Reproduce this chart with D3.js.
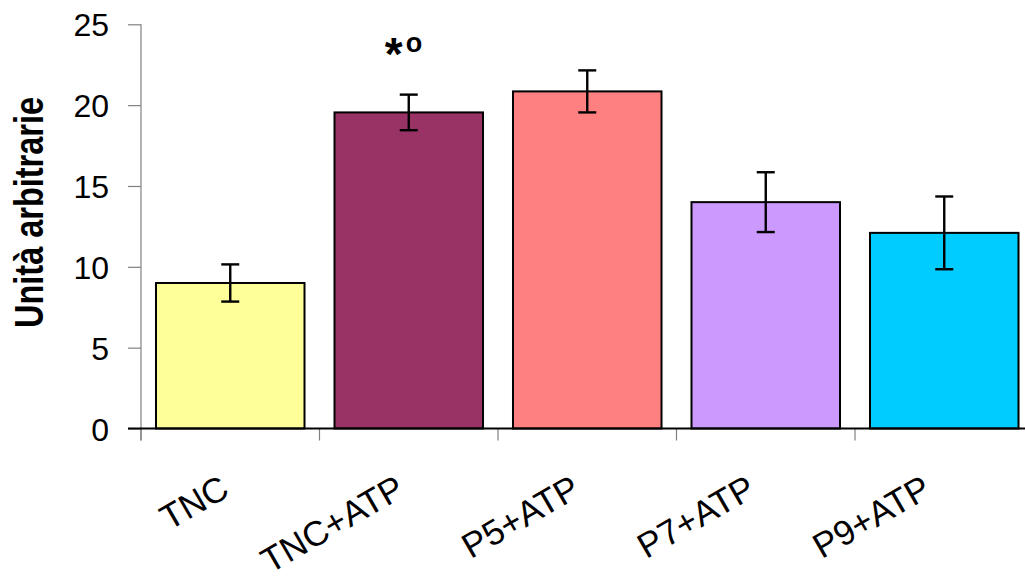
<!DOCTYPE html>
<html>
<head>
<meta charset="utf-8">
<script src="https://cdn.jsdelivr.net/npm/d3@7"></script>
<style>
  html, body { margin: 0; padding: 0; background: #fff; }
  svg { display: block; }
  text { font-family: "Liberation Sans", Arial, sans-serif; fill: #000; }
</style>
</head>
<body>
<svg id="chart" width="1025" height="579"></svg>
<script>
// Data
const categories = ["TNC", "TNC+ATP", "P5+ATP", "P7+ATP", "P9+ATP"];
const means = [9.0, 19.55, 20.85, 14.0, 12.1];
const errors = [1.15, 1.1, 1.3, 1.85, 2.25];
const barColors = ["#FFFF99", "#993366", "#FF8080", "#CC99FF", "#00CCFF"];
const yTicks = [0, 5, 10, 15, 20, 25];
const annotations = [{ category: "TNC+ATP", star: "*", ring: "o" }];

const svg = d3.select("#chart");

const x0 = 141, step = 178.5;
const x = d3.scaleBand()
  .domain(categories)
  .range([x0, x0 + step * categories.length])
  .paddingInner(0)
  .paddingOuter(0);

const y = d3.scaleLinear().domain([0, 25]).range([428.5, 24.3]);

const barW = x.bandwidth() * 0.832;
const cx = c => x(c) + x.bandwidth() / 2;

// Anchor points for the rotated category labels (slightly tighter spacing than the bars)
const xLabel = d3.scalePoint()
  .domain(categories)
  .range([cx(categories[0]) + 1, cx(categories[categories.length - 1]) - 11]);

// Y axis
const yAxis = svg.append("g").attr("transform", `translate(${x0},0)`)
  .call(d3.axisLeft(y).tickValues(yTicks).tickSize(13).tickPadding(19).tickSizeOuter(0));
yAxis.select(".domain").remove();
yAxis.selectAll(".tick line").attr("stroke", "#808080").attr("stroke-width", 1.2);
yAxis.selectAll(".tick text")
  .style("font-size", "32px")
  .attr("dy", "0.36em");
svg.append("line")
  .attr("x1", x0).attr("x2", x0)
  .attr("y1", y(25)).attr("y2", y(0) + 12)
  .attr("stroke", "#808080").attr("stroke-width", 1.2);

// Category ticks on the x axis
svg.append("g").selectAll("line.xt")
  .data(categories)
  .join("line")
  .attr("x1", d => x(d)).attr("x2", d => x(d))
  .attr("y1", y(0)).attr("y2", y(0) + 12)
  .attr("stroke", "#808080").attr("stroke-width", 1.2);

// Bars
svg.append("g").selectAll("rect")
  .data(categories)
  .join("rect")
  .attr("x", d => cx(d) - barW / 2)
  .attr("width", barW)
  .attr("y", (d, i) => y(means[i]))
  .attr("height", (d, i) => y(0) - y(means[i]))
  .attr("fill", (d, i) => barColors[i])
  .attr("stroke", "#000")
  .attr("stroke-width", 2);

// X axis line
svg.append("line")
  .attr("x1", x0 - 13).attr("x2", 1025)
  .attr("y1", y(0)).attr("y2", y(0))
  .attr("stroke", "#000").attr("stroke-width", 2);

// Error bars
const eb = svg.append("g").attr("stroke", "#000").attr("stroke-width", 2.4);
categories.forEach((c, i) => {
  const xc = cx(c);
  const hi = y(means[i] + errors[i]), lo = y(means[i] - errors[i]);
  eb.append("line").attr("x1", xc).attr("x2", xc).attr("y1", hi).attr("y2", lo);
  eb.append("line").attr("x1", xc - 9).attr("x2", xc + 9).attr("y1", hi).attr("y2", hi);
  eb.append("line").attr("x1", xc - 9).attr("x2", xc + 9).attr("y1", lo).attr("y2", lo);
});

// Category labels, rotated, ending near the category centre
svg.append("g").selectAll("text")
  .data(categories)
  .join("text")
  .attr("text-anchor", "end")
  .attr("transform", d => `translate(${xLabel(d)},${495}) rotate(-30)`)
  .style("font-size", "35px")
  .text(d => d);

// Significance marks
const sig = svg.append("g").selectAll("text")
  .data(annotations)
  .join("text")
  .attr("x", d => cx(d.category) - 24)
  .attr("y", 69.5)
  .style("font-weight", "bold");
sig.append("tspan").style("font-size", "46px").text(d => d.star);
sig.append("tspan").attr("dx", 3).attr("dy", -17.5).style("font-size", "27px").text(d => d.ring);

// Y axis title
svg.append("text")
  .attr("transform", `translate(43,212.5) rotate(-90)`)
  .attr("text-anchor", "middle")
  .attr("textLength", 231)
  .attr("lengthAdjust", "spacingAndGlyphs")
  .style("font-size", "40px")
  .style("font-weight", "bold")
  .text("Unità arbitrarie");
</script>
</body>
</html>
